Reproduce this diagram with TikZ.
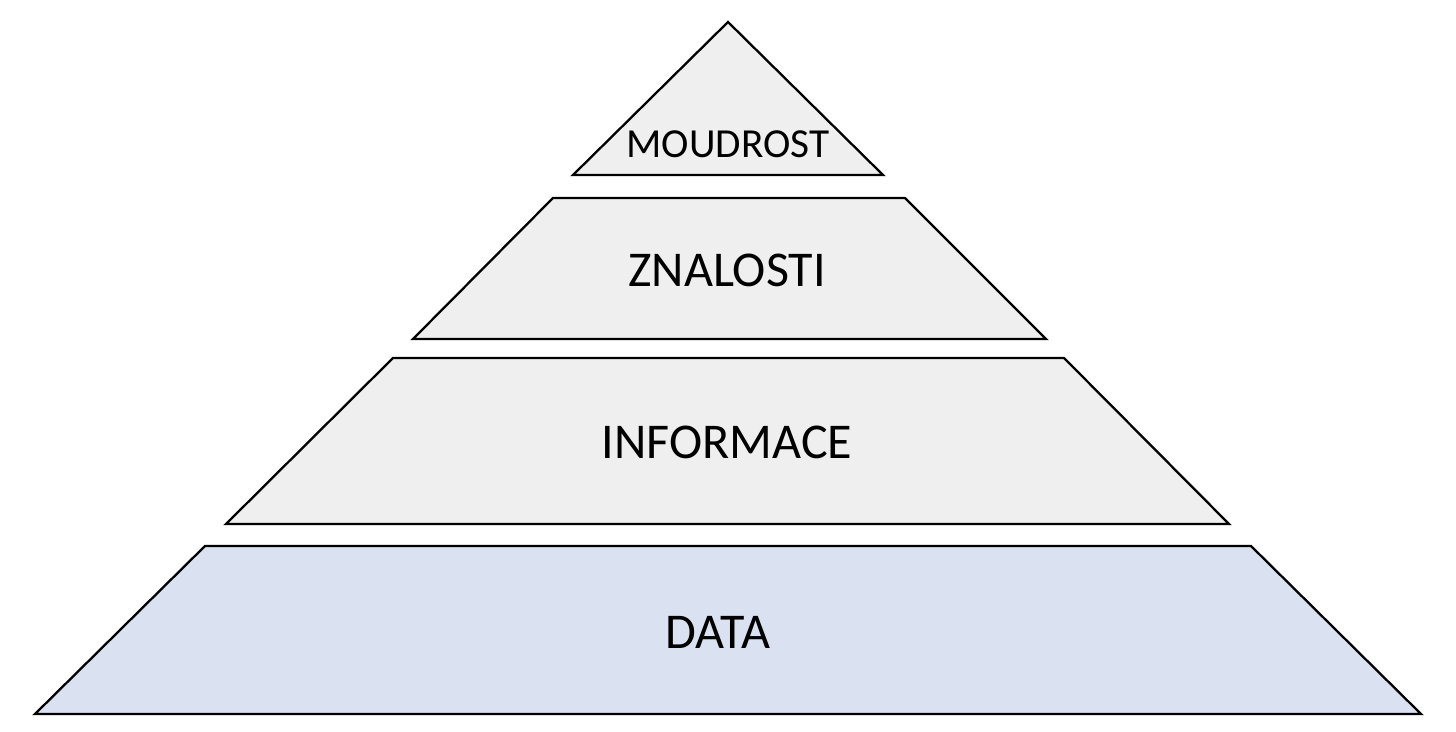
\documentclass[tikz,border=0pt]{standalone}
\usepackage{fontspec}
\setmainfont{Carlito}
\usepackage{tikz}
\definecolor{layergray}{HTML}{EFEFEF}
\definecolor{layerblue}{HTML}{DAE1F1}
\tikzset{layer/.style={draw=black,line width=1.3pt,line join=miter,fill=layergray},
  lbl/.style={font=\fontsize{28.5}{30}\selectfont,text=black}}

\begin{document}
\begin{tikzpicture}[x=0.02cm,y=-0.02cm]
        \useasboundingbox (0,0) rectangle (1456,732);
        % layers, top to bottom
        \draw[layer] (728,22) -- (883,175) -- (573,175) -- cycle;
        \draw[layer] (553,198) -- (905,198) -- (1046,339) -- (413,339) -- cycle;
        \draw[layer] (393,358) -- (1064,358) -- (1229,524) -- (226,524) -- cycle;
        \draw[layer,fill=layerblue] (205,546) -- (1251,546) -- (1421,714) -- (35,714) -- cycle;

        \node[lbl,font=\fontsize{23.5}{25}\selectfont] (w) at (728,144) {MOUDROST};
        \node[lbl] (k) at (727,270) {ZNALOSTI};
        \node[lbl] (i) at (727,442) {INFORMACE};
        \node[lbl] (d) at (718,632) {DATA};
    \end{tikzpicture}
\end{document}
